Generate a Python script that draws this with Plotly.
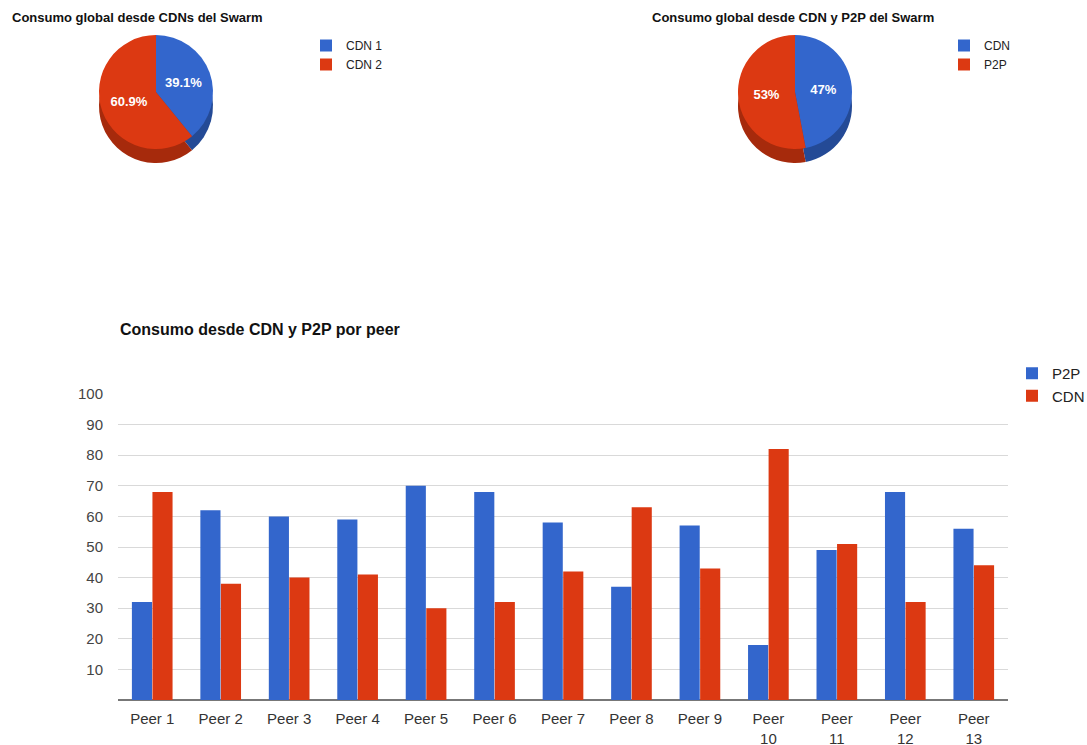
import plotly.graph_objects as go

# --- data ---
cdn_split_labels = ["CDN 1", "CDN 2"]
cdn_split_values = [39.1, 60.9]

source_labels = ["CDN", "P2P"]
source_values = [47, 53]

peers = ["Peer 1", "Peer 2", "Peer 3", "Peer 4", "Peer 5", "Peer 6", "Peer 7",
         "Peer 8", "Peer 9", "Peer<br>10", "Peer<br>11", "Peer<br>12", "Peer<br>13"]
p2p_values = [32, 62, 60, 59, 70, 68, 58, 37, 57, 18, 49, 68, 56]
cdn_values = [68, 38, 40, 41, 30, 32, 42, 63, 43, 82, 51, 32, 44]
y_ticks = [10, 20, 30, 40, 50, 60, 70, 80, 90, 100]

BLUE = "#3366CC"
RED = "#DC3912"
BLUE_DARK = "#244a96"
RED_DARK = "#a62a0c"

W, H = 1087, 745
FONT = "Liberation Sans, Arial, sans-serif"


def px_x(a, b):
    return [a / W, b / W]


def px_y(top, bottom):
    return [1 - bottom / H, 1 - top / H]


fig = go.Figure()


def add_pie(labels, values, cx, cy, d, depth, legend):
    # darker copy underneath gives the pie a bit of thickness
    fig.add_trace(go.Pie(
        labels=labels, values=values, sort=False, direction="clockwise", rotation=0,
        marker=dict(colors=[BLUE_DARK, RED_DARK]), textinfo="none", hoverinfo="skip",
        showlegend=False,
        domain=dict(x=px_x(cx - d / 2, cx + d / 2), y=px_y(cy - d / 2 + depth, cy + d / 2 + depth)),
    ))
    fig.add_trace(go.Pie(
        labels=labels, values=values, sort=False, direction="clockwise", rotation=0,
        marker=dict(colors=[BLUE, RED]), textinfo="percent", textposition="inside",
        insidetextfont=dict(color="white", size=13, family=FONT, weight="bold"),
        legend=legend,
        domain=dict(x=px_x(cx - d / 2, cx + d / 2), y=px_y(cy - d / 2, cy + d / 2)),
    ))


add_pie(cdn_split_labels, cdn_split_values, 156, 92, 114, 14, "legend2")
add_pie(source_labels, source_values, 795, 92, 114, 14, "legend3")

fig.add_trace(go.Bar(x=peers, y=p2p_values, name="P2P", marker_color=BLUE,
                     marker_line_width=0))
fig.add_trace(go.Bar(x=peers, y=cdn_values, name="CDN", marker_color=RED,
                     marker_line_width=0))

titles = [
    ("Consumo global desde CDNs del Swarm", 10, 17, 13),
    ("Consumo global desde CDN y P2P del Swarm", 650, 17, 13),
    ("Consumo desde CDN y P2P por peer", 118, 329, 16),
]
annotations = [
    dict(text=f"<b>{t}</b>", x=x / W, y=1 - y / H, xref="paper", yref="paper",
         xanchor="left", yanchor="middle", showarrow=False,
         font=dict(size=s, color="#111", family=FONT))
    for t, x, y, s in titles
]

legend_common = dict(bgcolor="rgba(0,0,0,0)", xanchor="left", yanchor="top",
                     itemclick=False, tracegroupgap=0)

fig.update_layout(
    width=W, height=H,
    margin=dict(l=0, r=0, t=0, b=0, autoexpand=False),
    paper_bgcolor="white", plot_bgcolor="white",
    font=dict(family=FONT, color="#333"),
    barmode="group", bargap=0.4, bargroupgap=0.02,
    annotations=annotations,
    xaxis=dict(domain=px_x(118, 1008), showgrid=False, ticks="", automargin=False,
               tickfont=dict(size=15, color="#333"), showline=False, fixedrange=True,
               ticklabelstandoff=8),
    yaxis=dict(domain=px_y(394, 700), range=[0, 100], tickvals=y_ticks, automargin=False,
               showgrid=True, gridcolor="#d9d9d9", gridwidth=1,
               zeroline=True, zerolinecolor="#777", zerolinewidth=2,
               tickfont=dict(size=15, color="#444"), ticks="", ticklabelstandoff=14),
    legend=dict(x=1012 / W, y=1 - 357 / H, font=dict(size=15, color="#222"),
                **legend_common),
    legend2=dict(x=306 / W, y=1 - 31 / H, font=dict(size=12, color="#222"),
                 **legend_common),
    legend3=dict(x=944 / W, y=1 - 31 / H, font=dict(size=12, color="#222"),
                 **legend_common),
)

fig.write_html("out.html")
